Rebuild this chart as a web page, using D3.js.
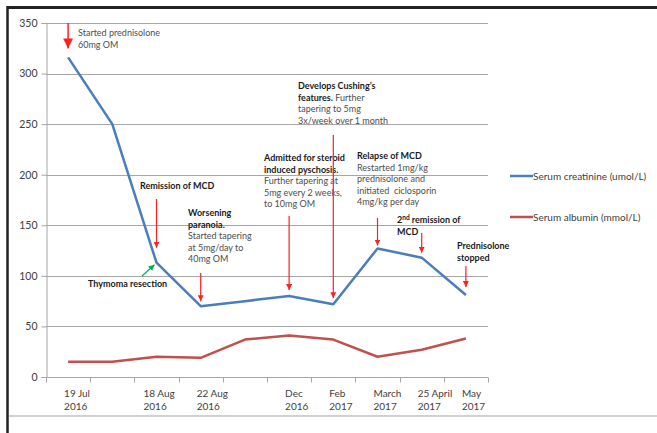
<!DOCTYPE html>
<html lang="en">
<head>
<meta charset="utf-8">
<title>Creatinine and albumin timeline</title>
<script src="https://d3js.org/d3.v7.min.js"></script>
<style>
  body { margin: 0; background: #fff; }
  svg text { font-family: Lato, "Open Sans", sans-serif; }
</style>
</head>
<body>
<div class="chart"></div>
<script>
// data
var categories = ["19 Jul 2016", "", "18 Aug 2016", "22 Aug 2016", "", "Dec 2016",
                  "Feb 2017", "March 2017", "25 April 2017", "May 2017"];
var creatinine = [316, 250, 113, 70, 75, 80, 72, 127, 118, 81];
var albumin = [15, 15, 20, 19, 37, 41, 37, 20, 27, 38];
var yTicks = [0, 50, 100, 150, 200, 250, 300, 350];
var seriesNames = ["Serum creatinine (umol/L)", "Serum albumin (mmol/L)"];

var width = 657, height = 433;

var svg = d3.select(".chart").append("svg")
    .attr("width", width)
    .attr("height", height);

var x = d3.scaleBand()
    .domain(d3.range(categories.length))
    .range([46, 488])
    .padding(0);

var y = d3.scaleLinear()
    .domain([0, 350])
    .range([377, 23]);

function cx(i) { return x(i) + x.bandwidth() / 2; }

// arrow heads
var defs = svg.append("defs");
function marker(id, size, color) {
  defs.append("marker")
      .attr("id", id)
      .attr("viewBox", "0 0 10 10")
      .attr("refX", 10).attr("refY", 5)
      .attr("markerWidth", size).attr("markerHeight", size)
      .attr("markerUnits", "userSpaceOnUse")
      .attr("orient", "auto")
    .append("path").attr("d", "M0,0L10,5L0,10z").attr("fill", color);
}
marker("redhead", 6, "#ff2020");
marker("bighead", 10, "#ff2020");
marker("greenhead", 6, "#00b050");

// page frame
svg.append("line").attr("x1", 7).attr("x2", width).attr("y1", 7.5).attr("y2", 7.5)
    .attr("stroke", "#222").attr("stroke-width", 3);
svg.append("line").attr("x1", 7.5).attr("x2", 7.5).attr("y1", 6).attr("y2", height)
    .attr("stroke", "#222").attr("stroke-width", 2.5);
svg.append("line").attr("x1", 9).attr("x2", width).attr("y1", 416).attr("y2", 416)
    .attr("stroke", "#c0c0c0").attr("stroke-width", 1.5);

// gridlines
svg.append("g").selectAll("line")
    .data(yTicks.slice(1))
    .enter().append("line")
    .attr("x1", 46).attr("x2", 488)
    .attr("y1", function(d) { return Math.round(y(d)) + 0.5; })
    .attr("y2", function(d) { return Math.round(y(d)) + 0.5; })
    .attr("stroke", "#a6a6a6").attr("stroke-width", 1);

// y axis
var yAxis = svg.append("g")
    .attr("transform", "translate(46.5,0)")
    .call(d3.axisLeft(y).tickValues(yTicks).tickSize(5).tickPadding(4));
yAxis.select(".domain").attr("stroke", "#a6a6a6");
yAxis.selectAll(".tick line").attr("stroke", "#a6a6a6");
yAxis.selectAll(".tick text")
    .attr("fill", "#404040")
    .style("font-size", "10.5px")
    .style("font-family", "Lato, sans-serif");

// x axis
var xAxisG = svg.append("g").attr("transform", "translate(0," + (Math.round(y(0)) + 0.5) + ")");
xAxisG.append("line").attr("x1", 46).attr("x2", 488)
    .attr("stroke", "#a6a6a6");
xAxisG.selectAll(".xt")
    .data(d3.range(categories.length + 1))
    .enter().append("line")
    .attr("x1", function(i) { return Math.round(46 + i * x.bandwidth()) + 0.5; })
    .attr("x2", function(i) { return Math.round(46 + i * x.bandwidth()) + 0.5; })
    .attr("y1", 0).attr("y2", 5)
    .attr("stroke", "#a6a6a6");

var xl = svg.append("g").selectAll("text")
    .data(categories.map(function(c, i) { return {c: c, i: i}; }).filter(function(d) { return d.c; }))
    .enter().append("text")
    .attr("x", function(d) { return cx(d.i) - (d.i === 2 ? 13 : 4); })
    .attr("y", 397)
    .attr("fill", "#404040")
    .style("font-size", "10px");
xl.each(function(d) {
  var parts = d.c.split(" ");
  var year = parts.pop();
  var t = d3.select(this);
  t.append("tspan").text(parts.join(" "));
  t.append("tspan").attr("x", t.attr("x")).attr("dy", 13).text(year);
});

// series lines
var line = d3.line()
    .x(function(d, i) { return cx(i); })
    .y(function(d) { return y(d); });

svg.append("path").datum(albumin)
    .attr("d", line)
    .attr("fill", "none")
    .attr("stroke", "#c0504d").attr("stroke-width", 2.5)
    .attr("stroke-linejoin", "round");

svg.append("path").datum(creatinine)
    .attr("d", line)
    .attr("fill", "none")
    .attr("stroke", "#4a7ebb").attr("stroke-width", 2.5)
    .attr("stroke-linejoin", "round");

// legend
var legendColors = ["#4a7ebb", "#c0504d"];
var lg = svg.append("g").selectAll("g")
    .data(seriesNames)
    .enter().append("g")
    .attr("transform", function(d, i) { return "translate(510," + (176 + i * 41) + ")"; });
lg.append("line").attr("x1", 0).attr("x2", 23)
    .attr("stroke", function(d, i) { return legendColors[i]; })
    .attr("stroke-width", 2.5);
lg.append("text").attr("x", 23).attr("y", 3.5)
    .attr("fill", "#404040")
    .style("font-size", "10px")
    .text(function(d) { return d; });

// annotations, each line is a list of [text, bold]
var notes = [
  {x: 78, y: 36, lines: [[["Started prednisolone", false]], [["60mg OM", false]]]},
  {x: 140, y: 189, lines: [[["Remission of MCD", true]]]},
  {x: 188, y: 216, lines: [[["Worsening", true]], [["paranoia.", true]], [["Started tapering", false]],
                           [["at 5mg/day to", false]], [["40mg OM", false]]]},
  {x: 88, y: 287, lines: [[["Thymoma resection", true]]]},
  {x: 264, y: 161, lines: [[["Admitted for steroid", true]], [["induced pyschosis.", true]],
                           [["Further tapering at", false]], [["5mg every 2 weeks,", false]],
                           [["to 10mg OM", false]]]},
  {x: 298, y: 89, lines: [[["Develops Cushing\u2019s", true]], [["features.", true], [" Further", false]],
                          [["tapering to 5mg", false]], [["3x/week over 1 month", false]]]},
  {x: 357, y: 159, lines: [[["Relapse of MCD", true]], [["Restarted 1mg/kg", false]],
                           [["prednisolone and", false]], [["initiated  ciclosporin", false]],
                           [["4mg/kg per day", false]]]},
  {x: 457, y: 249, lines: [[["Prednisolone", true]], [["stopped", true]]]}
];

var ng = svg.append("g").attr("class", "notes");
notes.forEach(function(n) {
  var t = ng.append("text")
      .attr("x", n.x).attr("y", n.y)
      .attr("fill", "#262626")
      .style("font-size", "9px")
      .attr("xml:space", "preserve");
  n.lines.forEach(function(ln, li) {
    ln.forEach(function(seg, si) {
      var s = t.append("tspan").text(seg[0])
          .attr("font-weight", seg[1] ? "bold" : "normal")
          .attr("fill", seg[1] ? "#1a1a1a" : "#4d4d4d");
      if (si === 0) s.attr("x", n.x).attr("dy", li === 0 ? 0 : 11.6);
    });
  });
});

// 2nd remission note with superscript
var t2 = ng.append("text").attr("x", 397).attr("y", 223)
    .attr("fill", "#1a1a1a").attr("font-weight", "bold").style("font-size", "9px");
t2.append("tspan").text("2");
t2.append("tspan").text("nd").attr("dy", -3).style("font-size", "6.5px");
t2.append("tspan").text(" remission of").attr("dy", 3);
t2.append("tspan").attr("x", 397).attr("dy", 11.6).text("MCD");

// arrows: category index, start y, gap above the point
var arrows = [
  {i: 2, y0: 199, gap: 15},
  {i: 3, y0: 273, gap: 5},
  {i: 5, y0: 216, gap: 6},
  {i: 6, y0: 135, gap: 6},
  {i: 7, y0: 218, gap: 3},
  {i: 8, y0: 233, gap: 5},
  {i: 9, y0: 266, gap: 8}
];
svg.append("g").selectAll("line")
    .data(arrows)
    .enter().append("line")
    .attr("x1", function(d) { return cx(d.i); })
    .attr("x2", function(d) { return cx(d.i); })
    .attr("y1", function(d) { return d.y0; })
    .attr("y2", function(d) { return y(creatinine[d.i]) - d.gap; })
    .attr("stroke", "#ff2020").attr("stroke-width", 1.2)
    .attr("marker-end", "url(#redhead)");

// first big arrow
svg.append("line")
    .attr("x1", cx(0)).attr("x2", cx(0))
    .attr("y1", y(350)).attr("y2", y(creatinine[0]) - 9)
    .attr("stroke", "#ff2020").attr("stroke-width", 1.5)
    .attr("marker-end", "url(#bighead)");

// green arrow for thymoma resection
svg.append("line")
    .attr("x1", 142).attr("y1", 276)
    .attr("x2", cx(2) - 2).attr("y2", y(creatinine[2]) + 2)
    .attr("stroke", "#00b050").attr("stroke-width", 1.2)
    .attr("marker-end", "url(#greenhead)");
</script>
</body>
</html>
